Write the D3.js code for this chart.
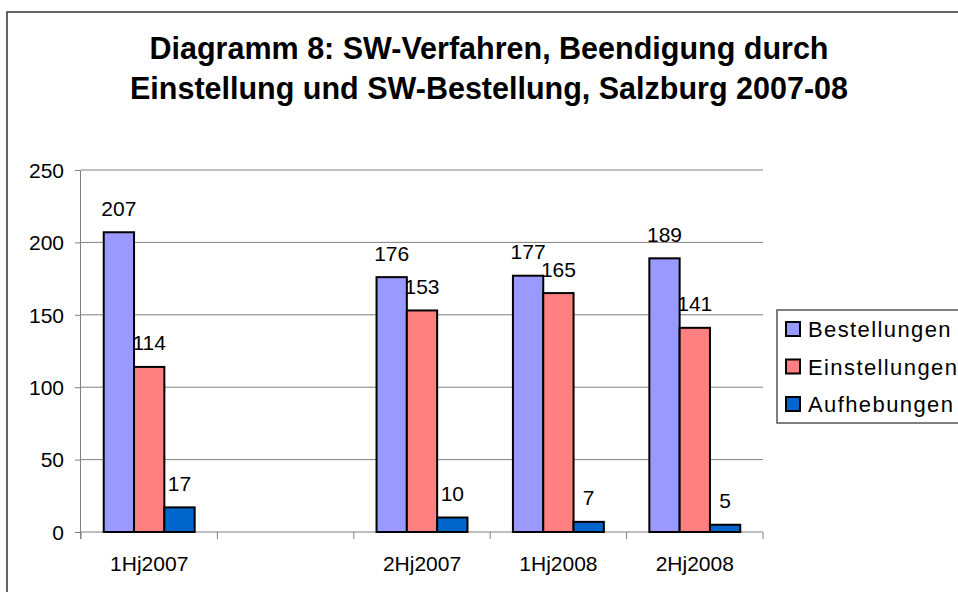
<!DOCTYPE html>
<html>
<head>
<meta charset="utf-8">
<script src="https://cdn.jsdelivr.net/npm/d3@7"></script>
<style>
  html, body { margin: 0; padding: 0; background: #fff; }
  svg { display: block; font-family: "Liberation Sans", Arial, sans-serif; }
</style>
</head>
<body>
<svg id="chart" width="958" height="592"></svg>
<script>
// ---- data ----
const categories = ["1Hj2007", "", "2Hj2007", "1Hj2008", "2Hj2008"];
const seriesNames = ["Bestellungen", "Einstellungen", "Aufhebungen"];
const bestellungen = [207, null, 176, 177, 189];
const einstellungen = [114, null, 153, 165, 141];
const aufhebungen = [17, null, 10, 7, 5];
const yTicks = [0, 50, 100, 150, 200, 250];
const titleLines = ["Diagramm 8: SW-Verfahren, Beendigung durch", "Einstellung und SW-Bestellung, Salzburg 2007-08"];

const seriesValues = [bestellungen, einstellungen, aufhebungen];
const colors = ["#9999FF", "#FF8080", "#0066CC"];

const svg = d3.select("#chart");

// outer chart border
svg.append("rect")
  .attr("x", 7).attr("y", 12).attr("width", 1000).attr("height", 700)
  .attr("fill", "#fff").attr("stroke", "#333").attr("stroke-width", 1.5);

// title
svg.append("g").selectAll("text").data(titleLines).join("text")
  .attr("x", 489).attr("y", (d, i) => 59 + i * 40)
  .attr("text-anchor", "middle")
  .attr("font-weight", "bold").attr("font-size", 30.5)
  .attr("fill", "#000")
  .text(d => d);

const plot = { left: 81, right: 763, top: 170, bottom: 532 };

const x = d3.scaleBand().domain(d3.range(categories.length))
  .range([plot.left, plot.right]).paddingInner(0).paddingOuter(0);
const bw = x.bandwidth();
// bars within a category: gap of 1.5 bar widths split on both sides
const sub = d3.scaleBand().domain(d3.range(seriesNames.length))
  .range([0, bw]).paddingInner(0).paddingOuter(0.75);
const barW = sub.bandwidth();

const y = d3.scaleLinear().domain([0, 250]).range([plot.bottom, plot.top]);

// gridlines
svg.append("g").selectAll("line").data(yTicks.filter(t => t > 0)).join("line")
  .attr("x1", plot.left).attr("x2", plot.right)
  .attr("y1", d => y(d)).attr("y2", d => y(d))
  .attr("stroke", "#808080").attr("stroke-width", 1);

// y axis
const yAxis = d3.axisLeft(y).tickValues(yTicks).tickSize(6).tickPadding(11).tickFormat(d3.format("d"));
const gy = svg.append("g").attr("transform", `translate(${plot.left},0)`).call(yAxis);
gy.select(".domain").attr("stroke", "#808080").attr("d", `M-0.5,${plot.top}V${plot.bottom + 7}`);
gy.selectAll(".tick line").attr("stroke", "#808080");
gy.selectAll(".tick text").attr("font-size", 21).attr("fill", "#000")
  .attr("font-family", "Liberation Sans, Arial, sans-serif").attr("dy", "0.35em");

// x axis
const gx = svg.append("g").attr("transform", `translate(0,${plot.bottom})`);
gx.append("line").attr("x1", plot.left).attr("x2", plot.right).attr("y1", 0).attr("y2", 0)
  .attr("stroke", "#808080");
const boundaries = d3.range(categories.length + 1).map(i => i < categories.length ? x(i) : x(categories.length - 1) + bw);
gx.selectAll("line.tk").data(boundaries).join("line").attr("class", "tk")
  .attr("x1", d => d).attr("x2", d => d).attr("y1", 0).attr("y2", 7)
  .attr("stroke", "#808080");
gx.selectAll("text").data(categories).join("text")
  .attr("x", (d, i) => x(i) + bw / 2).attr("y", 39)
  .attr("text-anchor", "middle").attr("font-size", 21).attr("fill", "#000")
  .text(d => d);

// bars
const bars = [];
seriesValues.forEach((vals, s) => {
  vals.forEach((v, i) => { if (v != null) bars.push({ s, i, v }); });
});
svg.append("g").selectAll("rect").data(bars).join("rect")
  .attr("x", d => x(d.i) + sub(d.s))
  .attr("y", d => y(d.v))
  .attr("width", barW)
  .attr("height", d => y(0) - y(d.v))
  .attr("fill", d => colors[d.s])
  .attr("stroke", "#000").attr("stroke-width", 2);

// data labels
svg.append("g").selectAll("text").data(bars).join("text")
  .attr("x", d => x(d.i) + sub(d.s) + barW / 2)
  .attr("y", d => y(d.v) - 16.5)
  .attr("text-anchor", "middle").attr("font-size", 21).attr("fill", "#000")
  .text(d => d.v);

// legend
const lg = svg.append("g");
lg.append("rect").attr("x", 777).attr("y", 310).attr("width", 300).attr("height", 113)
  .attr("fill", "#fff").attr("stroke", "#555").attr("stroke-width", 1.5);
const items = lg.selectAll("g").data(seriesNames).join("g")
  .attr("transform", (d, i) => `translate(0,${329 + i * 37.5})`);
items.append("rect").attr("x", 786).attr("y", -7).attr("width", 14).attr("height", 14)
  .attr("fill", (d, i) => colors[i]).attr("stroke", "#000").attr("stroke-width", 2);
items.append("text").attr("x", 808).attr("y", 8)
  .attr("font-size", 22).attr("letter-spacing", 1.4).attr("fill", "#000")
  .text(d => d);
</script>
</body>
</html>
